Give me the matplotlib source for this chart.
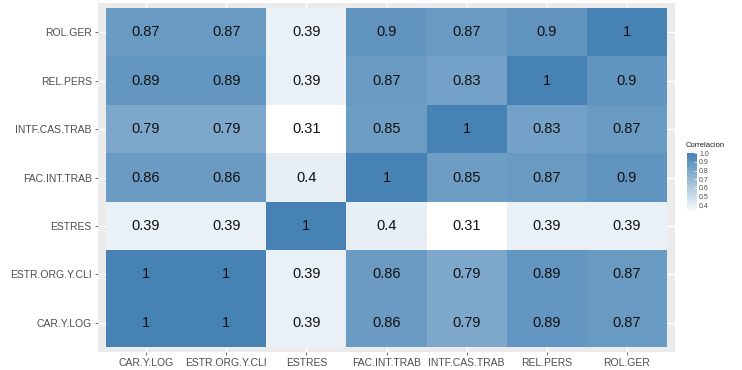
import numpy as np
import matplotlib
matplotlib.use("Agg")
import matplotlib.pyplot as plt
from matplotlib.colors import LinearSegmentedColormap, Normalize

plt.rcParams['font.family'] = ['Liberation Sans', 'DejaVu Sans']

# variables (x order left->right, y order bottom->top)
variables = ["CAR.Y.LOG", "ESTR.ORG.Y.CLI", "ESTRES", "FAC.INT.TRAB",
             "INTF.CAS.TRAB", "REL.PERS", "ROL.GER"]

# correlation rows, same order as variables
car_y_log = [1, 1, 0.39, 0.86, 0.79, 0.89, 0.87]
estr_org_y_cli = [1, 1, 0.39, 0.86, 0.79, 0.89, 0.87]
estres = [0.39, 0.39, 1, 0.4, 0.31, 0.39, 0.39]
fac_int_trab = [0.86, 0.86, 0.4, 1, 0.85, 0.87, 0.9]
intf_cas_trab = [0.79, 0.79, 0.31, 0.85, 1, 0.83, 0.87]
rel_pers = [0.89, 0.89, 0.39, 0.87, 0.83, 1, 0.9]
rol_ger = [0.87, 0.87, 0.39, 0.9, 0.87, 0.9, 1]

corr = np.array([car_y_log, estr_org_y_cli, estres, fac_int_trab,
                 intf_cas_trab, rel_pers, rol_ger])

cmap = LinearSegmentedColormap.from_list("steel", ["#FFFFFF", "#4682B4"])
norm = Normalize(vmin=corr.min(), vmax=corr.max())

fig = plt.figure(figsize=(7.42, 3.70), dpi=100)
ax = fig.add_axes([0.1321, 0.0486, 0.7776, 0.943])
ax.set_facecolor("#EBEBEB")

n = len(variables)
edges = np.arange(n + 1) + 0.5
ax.pcolormesh(edges, edges, corr, cmap=cmap, norm=norm, zorder=2)

for i in range(n):
    for j in range(n):
        ax.text(j + 1, i + 1, f"{corr[i, j]:g}", ha="center", va="center",
                fontsize=10.5, color="#111111", zorder=3)

ax.set_xlim(0.4, n + 0.6)
ax.set_ylim(0.4, n + 0.6)
ax.set_xticks(range(1, n + 1))
ax.set_yticks(range(1, n + 1))
ax.set_xticklabels(variables)
ax.set_yticklabels(variables)
ax.tick_params(length=2.5, width=0.6, color="#555555", labelcolor="#4D4D4D",
               labelsize=7.5, pad=2)
ax.grid(True, color="white", linewidth=0.9, zorder=1)
ax.set_axisbelow(True)
for s in ax.spines.values():
    s.set_visible(False)

# colorbar legend
cax = fig.add_axes([0.926, 0.424, 0.0135, 0.162])
sm = plt.cm.ScalarMappable(cmap=cmap, norm=norm)
cb = fig.colorbar(sm, cax=cax, ticks=[0.4, 0.5, 0.6, 0.7, 0.8, 0.9, 1.0])
cb.outline.set_visible(False)
cb.ax.set_yticklabels([f"{t:.1f}" for t in [0.4, 0.5, 0.6, 0.7, 0.8, 0.9, 1.0]])
cb.ax.tick_params(length=2.5, width=0.5, color="white", direction="in",
                  labelsize=5, labelcolor="#4D4D4D", pad=1.5)
fig.text(0.924, 0.598, "Correlacion", fontsize=5.5, color="#222222",
         ha="left", va="bottom")

fig.savefig("out.png", dpi=100)
